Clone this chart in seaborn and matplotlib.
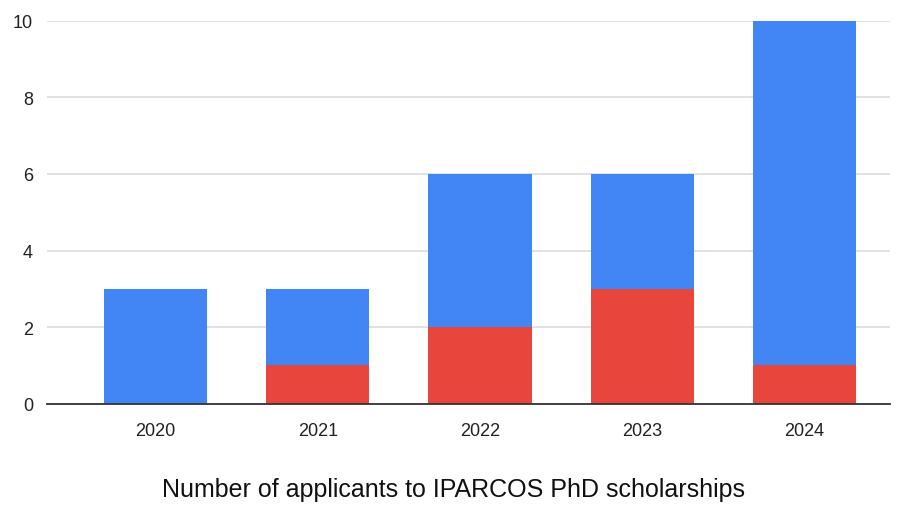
import pandas as pd
import matplotlib
matplotlib.use("Agg")
import matplotlib.pyplot as plt
import seaborn as sns

# Applicants per year (total) and the subset shown in red
years = ["2020", "2021", "2022", "2023", "2024"]
total_applicants = [3, 3, 6, 6, 10]
red_applicants = [0, 1, 2, 3, 1]

df = pd.DataFrame({"year": years, "total": total_applicants, "red": red_applicants})

sns.set_style("white")
plt.rcParams['font.family'] = ['Liberation Sans', 'DejaVu Sans']

fig = plt.figure(figsize=(9.03, 5.06), dpi=100)
ax = fig.add_axes([0.052, 0.2, 0.934, 0.757])

sns.barplot(data=df, x="year", y="total", color="#4285F4", width=0.636,
            saturation=1, linewidth=0, ax=ax, zorder=2)
sns.barplot(data=df, x="year", y="red", color="#E8453C", width=0.636,
            saturation=1, linewidth=0, ax=ax, zorder=3)

ax.set_ylim(0, 10)
ax.set_xlim(-0.67, 4.53)
ax.set_yticks(range(0, 11, 2))
ax.yaxis.grid(True, color="#dcdcdc", linewidth=1.2, zorder=0)
ax.set_axisbelow(True)
for s in ["top", "right", "left"]:
    ax.spines[s].set_visible(False)
ax.spines["bottom"].set_color("#333333")
ax.spines["bottom"].set_linewidth(1.3)
ax.spines["bottom"].set_zorder(4)
ax.tick_params(axis="both", length=0, labelsize=13, labelcolor="#222222")
ax.tick_params(axis="x", pad=13)
ax.tick_params(axis="y", pad=10)
ax.set_xlabel("")
ax.set_ylabel("")

fig.text(0.502, 0.007, "Number of applicants to IPARCOS PhD scholarships",
         ha="center", va="bottom", fontsize=18, color="#111111")

fig.savefig("out.png", dpi=100)
